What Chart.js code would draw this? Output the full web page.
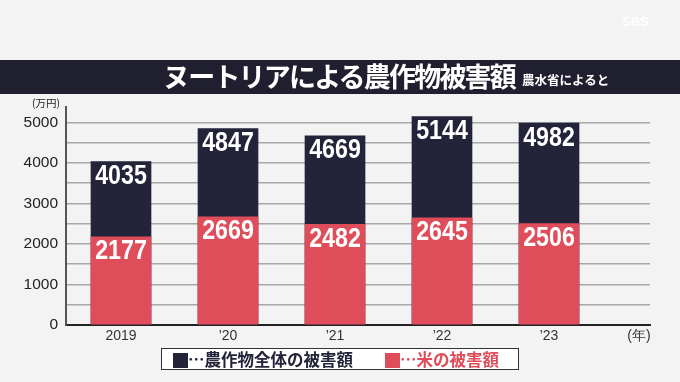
<!DOCTYPE html>
<html><head><meta charset="utf-8">
<script src="https://cdn.jsdelivr.net/npm/chart.js@4"></script>
<style>
html,body{margin:0;padding:0;background:#f3f3f3;width:680px;height:382px;overflow:hidden;font-family:"Noto Sans CJK JP","Noto Sans",sans-serif;}
#wrap{position:relative;width:680px;height:382px;}
canvas{position:absolute;left:0;top:0;}
#bar{position:absolute;left:0;top:60px;width:680px;height:34px;background:#1f1f30;}
#title{position:absolute;left:163px;top:59px;color:#fff;font-weight:bold;font-size:27px;letter-spacing:-1.8px;line-height:34px;white-space:nowrap;}
#sub{position:absolute;left:522px;top:70px;color:#fff;font-weight:bold;font-size:12.5px;line-height:20px;white-space:nowrap;}
#unit{position:absolute;left:32px;top:96px;color:#222;font-size:10.5px;line-height:14px;}
#logo{position:absolute;left:622px;top:14px;color:#fff;font-size:13px;font-weight:bold;font-family:"Liberation Sans",sans-serif;}
#legend{position:absolute;left:161px;top:348px;width:356px;height:20px;background:#fff;border:1.5px solid #333;font-weight:bold;font-size:16.5px;line-height:20px;white-space:nowrap;}
#legend span.sq{display:inline-block;width:15px;height:15px;vertical-align:-2px;}
</style></head>
<body><div id="wrap">
<canvas id="c" width="680" height="382"></canvas>
<div id="bar"></div>
<div id="title">ヌートリアによる農作物被害額</div>
<div id="sub">農水省によると</div>
<div id="logo">SBS</div>
<div id="unit">(万円)</div>
<div id="legend"><span style="position:absolute;left:11px;top:0;color:#23233a"><span class="sq" style="background:#23233a"></span>…農作物全体の被害額</span><span style="position:absolute;left:223px;top:0;color:#df4d5b"><span class="sq" style="background:#df4d5b"></span>…米の被害額</span></div>
</div>
<script>
const years = ['2019', '\u201920', '\u201921', '\u201922', '\u201923'];
const totalDamage = [4035, 4847, 4669, 5144, 4982];
const riceDamage = [2177, 2669, 2482, 2645, 2506];
const yearUnit = '(年)';

const darkColor = '#23233a';
const redColor = '#df4d5b';

const toPoints = arr => arr.map((v, i) => ({x: i, y: v}));

const labelPlugin = {
  id: 'barLabels',
  afterDatasetsDraw(chart) {
    const ctx = chart.ctx;
    ctx.save();
    ctx.fillStyle = '#fff';
    ctx.font = 'bold 27px "Liberation Sans", Arial, sans-serif';
    ctx.textAlign = 'center';
    ctx.textBaseline = 'middle';
    chart.data.datasets.forEach((ds, di) => {
      const meta = chart.getDatasetMeta(di);
      meta.data.forEach((el, i) => {
        const v = ds.data[i].y;
        ctx.save();
        ctx.translate(el.x, el.y + 15);
        ctx.scale(0.86, 1);
        ctx.fillText(String(v), 0, 0);
        ctx.restore();
      });
    });
    ctx.restore();
  }
};

new Chart(document.getElementById('c'), {
  type: 'bar',
  data: {
    datasets: [
      {label: '米の被害額', data: toPoints(riceDamage), backgroundColor: redColor, barThickness: 60, grouped: false},
      {label: '農作物全体の被害額', data: toPoints(totalDamage), backgroundColor: darkColor, barThickness: 60, grouped: false}
    ]
  },
  options: {
    responsive: false,
    animation: false,
    events: [],
    layout: {padding: {left: 0, top: 107, right: 30, bottom: 0}},
    plugins: {legend: {display: false}, tooltip: {enabled: false}},
    scales: {
      x: {
        type: 'linear',
        offset: false,
        min: -55/107,
        max: 4 + 101/107,
        grid: {display: false, drawTicks: false},
        border: {display: true, color: '#222', width: 2},
        afterBuildTicks: axis => { axis.ticks = [0,1,2,3,4,4.84].map(v => ({value: v})); },
        afterFit: s => { s.height = 57; },
        ticks: {
          autoSkip: false, maxRotation: 0, padding: 4,
          color: '#333',
          font: {size: 14, lineHeight: 1, family: '"Liberation Sans", Arial, sans-serif'},
          callback: v => (v === 4.84 ? yearUnit : years[Math.round(v)])
        }
      },
      y: {
        min: 0, max: 5380,
        afterBuildTicks: axis => { const t=[]; for (let v=0; v<=5000; v+=500) t.push({value: v}); axis.ticks = t; },
        afterFit: s => { s.width = 66; },
        grid: {color: '#a8a8a8', lineWidth: 1.5, drawTicks: false},
        border: {display: true, color: '#555', width: 2},
        ticks: {
          padding: 8,
          color: '#222',
          font: {size: 15.5, family: '"Liberation Sans", Arial, sans-serif'},
          callback: v => (v % 1000 === 0 ? String(v) : '')
        }
      }
    }
  },
  plugins: [labelPlugin]
});
</script>
</body></html>
